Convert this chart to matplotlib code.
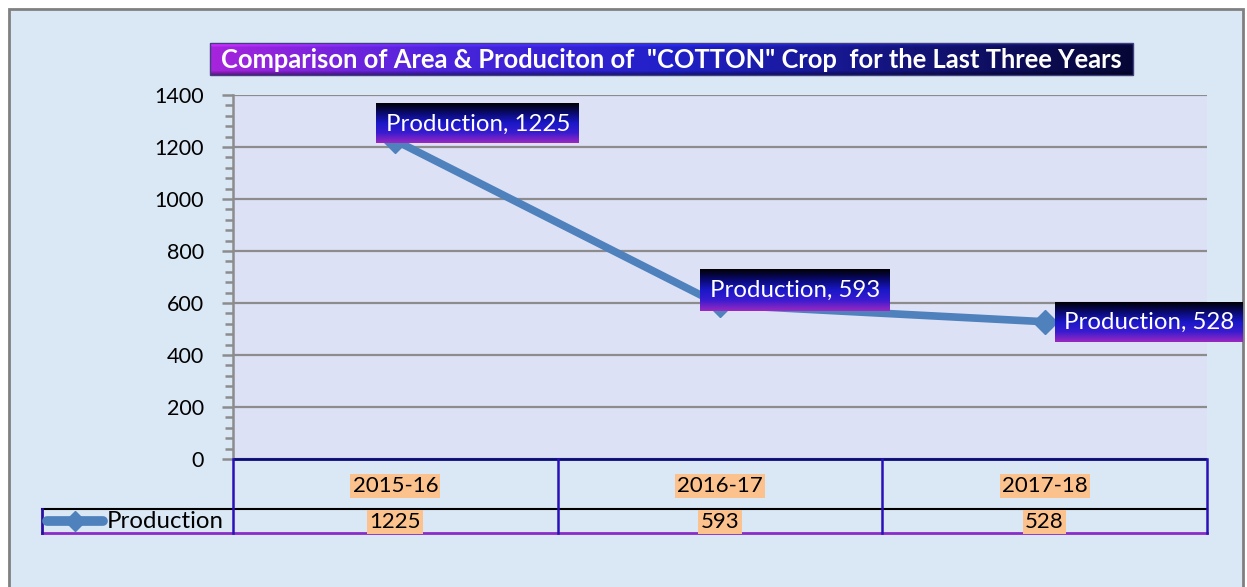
import numpy as np
import matplotlib
matplotlib.use('Agg')
import matplotlib.pyplot as plt
from matplotlib.colors import LinearSegmentedColormap, to_rgb
from matplotlib.patches import Rectangle

# ---------------- data ----------------
categories = ['2015-16', '2016-17', '2017-18']
production = [1225, 593, 528]
series_name = 'Production'
title = 'Comparison of Area & Produciton of  "COTTON" Crop  for the Last Three Years'
yticks = [0, 200, 400, 600, 800, 1000, 1200, 1400]

# ---------------- style ----------------
FONT = ['Lato', 'DejaVu Sans']
plt.rcParams['font.family'] = FONT
W, H = 1247, 587
LINE_COLOR = '#4f81bd'

fig = plt.figure(figsize=(W / 100, H / 100), dpi=100, facecolor='white')

def frect(x0, y0, x1, y1):
    return [x0 / W, 1 - y1 / H, (x1 - x0) / W, (y1 - y0) / H]

# background (pixel-coordinate axes)
bg = fig.add_axes([0, 0, 1, 1], zorder=-10)
bg.set_xlim(0, W); bg.set_ylim(H, 0); bg.axis('off')
bg.add_patch(Rectangle((9, 9), 1234, 600, facecolor='#dae7f5', edgecolor='#808080', lw=2))

# main axes
PX0, PY0, PX1, PY1 = 233, 95, 1207, 459
ax = fig.add_axes(frect(PX0, PY0, PX1, PY1), zorder=1)
ax.set_facecolor('#dde1f5')
ax.set_xlim(-0.5, len(categories) - 0.5)
ax.set_ylim(yticks[0], yticks[-1])
ax.set_yticks(yticks)
ax.set_yticks(np.arange(yticks[0], yticks[-1] + 1, 40), minor=True)
ax.set_xticks([])
ax.tick_params(axis='y', which='major', length=8, width=1.8, color='#8c8c8c',
               labelsize=15.5, pad=13, labelcolor='black')
ax.tick_params(axis='y', which='minor', length=6, width=1.8, color='#8c8c8c')
for t in ax.get_yticklabels():
    t.set_fontfamily(FONT)
ax.grid(axis='y', which='major', color='#8c8c8c', lw=1.6)
ax.set_axisbelow(True)
for s in ['top', 'right', 'bottom']:
    ax.spines[s].set_visible(False)
ax.spines['left'].set_color('#8c8c8c')
ax.spines['left'].set_linewidth(1.8)

xs = np.arange(len(categories))
ax.plot(xs, production, color=LINE_COLOR, lw=5.5, marker='D', ms=12,
        mfc=LINE_COLOR, mec=LINE_COLOR, zorder=3, clip_on=False)

# overlay axes in pixel coordinates
fg = fig.add_axes([0, 0, 1, 1], zorder=10)
fg.set_xlim(0, W); fg.set_ylim(H, 0); fg.axis('off')
fg.patch.set_alpha(0)

def to_px(xd, yd):
    dx, dy = ax.transData.transform((xd, yd))
    return dx, H - dy

# title with gradient box
tx0, ty0, tx1, ty1 = 210, 43, 1133, 75
hcols = [to_rgb('#a624dc'), to_rgb('#4a24dc'), to_rgb('#2020c8'), to_rgb('#14147c'), to_rgb('#060636')]
hcmap = LinearSegmentedColormap.from_list('h', hcols)
gx = np.linspace(0, 1, 300)
row = hcmap(gx)[:, :3]
vprof = np.concatenate([np.linspace(1.4, 1.1, 4), np.ones(24), np.linspace(0.9, 0.6, 4)])
img = np.clip(row[None, :, :] * vprof[:, None, None], 0, 1)
fg.imshow(img, extent=(tx0, tx1, ty1, ty0), aspect='auto', zorder=5, interpolation='bilinear')
fg.add_patch(Rectangle((tx0, ty0), tx1 - tx0, ty1 - ty0, fill=False, edgecolor='#404080', lw=1, zorder=6))
fg.text((tx0 + tx1) / 2, (ty0 + ty1) / 2 + 1, title, color='white', fontsize=18.4,
        fontweight='bold', ha='center', va='center', zorder=7)

# data labels with gradient boxes
lcmap = LinearSegmentedColormap.from_list('l', [to_rgb('#000004'), to_rgb('#0a0a70'),
                                                to_rgb('#1a18c8'), to_rgb('#3a1cd0'),
                                                to_rgb('#9a28c0')])
vg = lcmap(np.linspace(0, 1, 64))[:, :3][:, None, :]
label_offsets = [(-19, -37, 203, 40), (-20, -36, 190, 42), (10, -20, 188, 40)]
for i, v in enumerate(production):
    px, py = to_px(xs[i], v)
    ox, oy, bw, bh = label_offsets[i]
    bx0, by0 = px + ox, py + oy
    fg.imshow(vg, extent=(bx0, bx0 + bw, by0 + bh, by0), aspect='auto', zorder=5,
              interpolation='bilinear')
    fg.text(bx0 + bw / 2, by0 + bh / 2 + 1, f'{series_name}, {v}', color='white',
            fontsize=17.3, ha='center', va='center', zorder=7)

# data table
row1_bot, row2_bot, leg_left = 509, 533, 42
bounds = [to_px(x, 0)[0] for x in np.arange(len(categories) + 1) - 0.5]
fg.plot([bounds[0], bounds[-1]], [PY1, PY1], color='#0a0a78', lw=2, zorder=8, solid_capstyle='butt')
fg.plot([leg_left, bounds[-1]], [row1_bot, row1_bot], color='black', lw=1.5, zorder=8)
fg.plot([leg_left, bounds[-1]], [row2_bot, row2_bot], color='#8a2cc8', lw=2, zorder=8)
fg.plot([leg_left, leg_left], [row1_bot, row2_bot], color='#2a10a0', lw=2, zorder=8)
for b in bounds:
    fg.plot([b, b], [PY1, row2_bot], color='#2a10b8', lw=1.8, zorder=8)

hl = dict(boxstyle='square,pad=0.1', facecolor='#fbc28e', edgecolor='none')
for i, c in enumerate(categories):
    cx = (bounds[i] + bounds[i + 1]) / 2
    fg.text(cx, (PY1 + row1_bot) / 2 + 2, c, fontsize=16, ha='center', va='center',
            bbox=hl, zorder=9)
    fg.text(cx, (row1_bot + row2_bot) / 2 + 1, str(production[i]), fontsize=16,
            ha='center', va='center', bbox=hl, zorder=9)

# legend key
ly = (row1_bot + row2_bot) / 2
fg.plot([47, 103], [ly, ly], color=LINE_COLOR, lw=7, solid_capstyle='round', zorder=9)
fg.plot([75], [ly], marker='D', ms=10, color=LINE_COLOR, zorder=9)
fg.text(107, ly + 1, series_name, fontsize=17.3, ha='left', va='center', zorder=9)

fig.savefig('out.png', dpi=100, facecolor='white')
